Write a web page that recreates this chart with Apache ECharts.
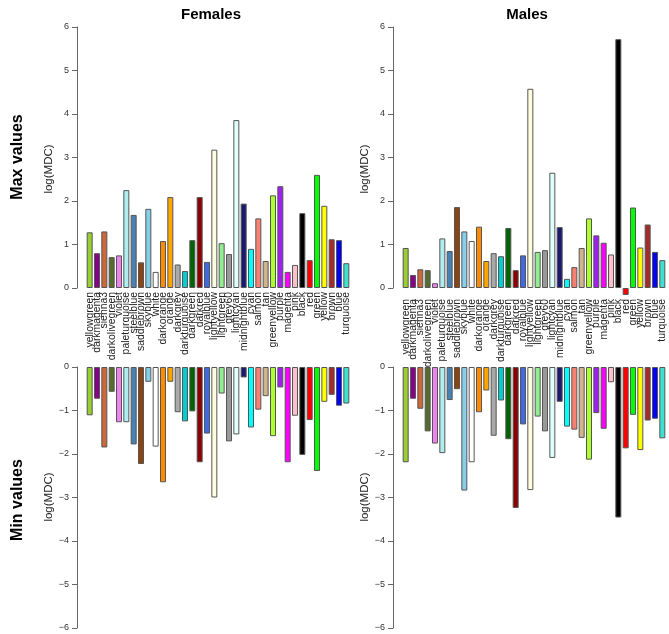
<!DOCTYPE html>
<html>
<head>
<meta charset="utf-8">
<script src="https://cdn.jsdelivr.net/npm/echarts@6/dist/echarts.min.js"></script>
<style>
  html, body { margin: 0; padding: 0; background: #fff; }
  #main { width: 669px; height: 634px; }
</style>
</head>
<body>
<div id="main"></div>
<script>
// module names (also the bar colours)
const categories = ['yellowgreen', 'darkmagenta', 'sienna3', 'darkolivegreen', 'violet', 'paleturquoise',
    'steelblue', 'saddlebrown', 'skyblue', 'white', 'darkorange', 'orange', 'darkgrey', 'darkturquoise',
    'darkgreen', 'darkred', 'royalblue', 'lightyellow', 'lightgreen', 'grey60', 'lightcyan', 'midnightblue',
    'cyan', 'salmon', 'tan', 'greenyellow', 'purple', 'magenta', 'pink', 'black', 'red', 'green', 'yellow',
    'brown', 'blue', 'turquoise'];

const femalesMax = [1.28, 0.80, 1.30, 0.71, 0.75, 2.25, 1.68, 0.59, 1.82, 0.37, 1.08, 2.09, 0.54, 0.39,
    1.10, 2.09, 0.60, 3.18, 1.03, 0.78, 3.86, 1.94, 0.90, 1.60, 0.62, 2.13, 2.34, 0.37, 0.53, 1.72, 0.64,
    2.60, 1.89, 1.12, 1.10, 0.57];
const malesMax = [0.92, 0.30, 0.43, 0.41, 0.11, 1.14, 0.85, 1.86, 1.30, 1.08, 1.41, 0.62, 0.80, 0.73,
    1.38, 0.41, 0.75, 4.58, 0.83, 0.87, 2.65, 1.40, 0.21, 0.48, 0.92, 1.60, 1.21, 1.04, 0.77, 5.72, -0.16,
    1.85, 0.93, 1.46, 0.83, 0.64];
const femalesMin = [-1.11, -0.73, -1.85, -0.57, -1.27, -1.27, -1.78, -2.23, -0.34, -1.83, -2.65, -0.34,
    -1.04, -1.25, -1.02, -2.19, -1.53, -3.00, -0.61, -1.71, -1.55, -0.24, -1.39, -0.98, -0.67, -1.59, -0.47,
    -2.19, -1.12, -2.02, -1.22, -2.39, -0.80, -0.64, -0.89, -0.84];
const malesMin = [-2.19, -0.73, -0.96, -1.48, -1.76, -1.98, -0.76, -0.51, -2.84, -2.19, -1.04, -0.54,
    -1.58, -0.77, -1.66, -3.24, -1.32, -2.83, -1.14, -1.48, -2.09, -0.80, -1.37, -1.44, -1.63, -2.13, -1.06,
    -1.42, -0.35, -3.46, -1.87, -1.10, -1.91, -1.23, -1.19, -1.64];

// R colour names -> hex
const rColors = {
    yellowgreen: '#9ACD32', darkmagenta: '#8B008B', sienna3: '#CD6839', darkolivegreen: '#556B2F',
    violet: '#EE82EE', paleturquoise: '#AFEEEE', steelblue: '#4682B4', saddlebrown: '#8B4513',
    skyblue: '#87CEEB', white: '#FFFFFF', darkorange: '#FF8C00', orange: '#FFA500', darkgrey: '#A9A9A9',
    darkturquoise: '#00CED1', darkgreen: '#006400', darkred: '#8B0000', royalblue: '#4169E1',
    lightyellow: '#FFFFE0', lightgreen: '#90EE90', grey60: '#999999', lightcyan: '#E0FFFF',
    midnightblue: '#191970', cyan: '#00FFFF', salmon: '#FA8072', tan: '#D2B48C', greenyellow: '#ADFF2F',
    purple: '#A020F0', magenta: '#FF00FF', pink: '#FFC0CB', black: '#000000', red: '#FF0000',
    green: '#00FF00', yellow: '#FFFF00', brown: '#A52A2A', blue: '#0000FF', turquoise: '#40E0D0'
};

const font = 'Liberation Sans, Arial, sans-serif';
let chart = echarts.init(document.getElementById('main'));

// one entry per panel; nameX/nameY = where the "log(MDC)" label sits
const panels = [
    {left: 86, top: 27, values: femalesMax, min: 0, max: 6, labels: true, margin: 4, nameX: 49, nameY: 169},
    {left: 402, top: 27, values: malesMax, min: 0, max: 6, labels: true, margin: 11, nameX: 365, nameY: 169},
    {left: 86, top: 367, values: femalesMin, min: -6, max: 0, labels: false, nameX: 49, nameY: 497},
    {left: 402, top: 367, values: malesMin, min: -6, max: 0, labels: false, nameX: 365, nameY: 497}
];

let grids = [], xAxes = [], yAxes = [], series = [];
let graphics = [
    {type: 'text', x: 18, y: 157, rotation: Math.PI / 2,
        style: {text: 'Max values', fontSize: 16, fontWeight: 'bold', fontFamily: font, fill: '#000',
            align: 'center', verticalAlign: 'middle'}},
    {type: 'text', x: 18, y: 500, rotation: Math.PI / 2,
        style: {text: 'Min values', fontSize: 16, fontWeight: 'bold', fontFamily: font, fill: '#000',
            align: 'center', verticalAlign: 'middle'}}
];

panels.forEach((p, i) => {
    grids.push({left: p.left, top: p.top, width: 264, height: 261});
    xAxes.push({
        type: 'category', gridIndex: i, data: categories,
        axisLine: {show: false}, axisTick: {show: false},
        axisLabel: {
            show: p.labels, rotate: 90, interval: 0, margin: p.margin,
            fontSize: 10.4, fontFamily: font, color: '#222'
        }
    });
    yAxes.push({
        type: 'value', gridIndex: i, min: p.min, max: p.max, interval: 1, offset: 9,
        splitLine: {show: false},
        axisLine: {show: true, lineStyle: {color: '#666'}},
        axisTick: {show: true, length: 5, lineStyle: {color: '#666'}},
        axisLabel: {
            fontSize: 9, fontFamily: font, color: '#333', margin: 8,
            formatter: v => String(v).replace('-', '\u2212')
        }
    });
    series.push({
        type: 'bar', xAxisIndex: i, yAxisIndex: i, barWidth: 6, clip: false,
        itemStyle: {borderColor: '#555', borderWidth: 1},
        data: p.values.map((v, k) => ({value: v, itemStyle: {color: rColors[categories[k]]}}))
    });
    graphics.push({type: 'text', x: p.nameX, y: p.nameY, rotation: Math.PI / 2,
        style: {text: 'log(MDC)', fontSize: 11.5, fontFamily: font, fill: '#222',
            align: 'center', verticalAlign: 'middle'}});
});

let option = {
    animation: false,
    backgroundColor: '#fff',
    title: [
        {text: 'Females', left: 206, top: 2, textAlign: 'center',
            textStyle: {fontSize: 15, fontWeight: 'bold', fontFamily: font, color: '#000'}},
        {text: 'Males', left: 522, top: 2, textAlign: 'center',
            textStyle: {fontSize: 15, fontWeight: 'bold', fontFamily: font, color: '#000'}}
    ],
    graphic: graphics,
    grid: grids,
    xAxis: xAxes,
    yAxis: yAxes,
    series: series
};

chart.setOption(option);

window.onresize = () => {
    chart.resize();
};
</script>
</body>
</html>
